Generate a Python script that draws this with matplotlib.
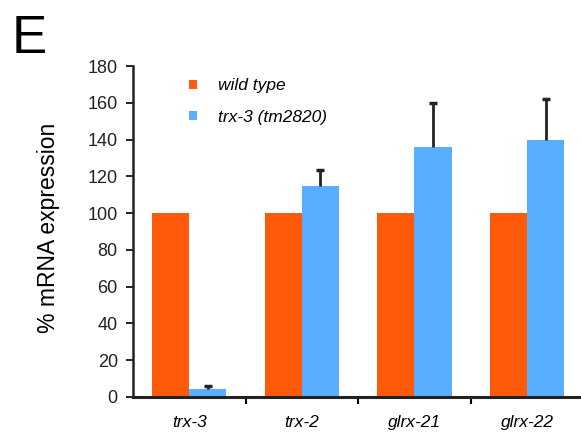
import matplotlib
matplotlib.use("Agg")
import matplotlib.pyplot as plt
import numpy as np

plt.rcParams['font.family'] = ['Liberation Sans', 'DejaVu Sans']

genes = ["trx-3", "trx-2", "glrx-21", "glrx-22"]
wild_type = [100, 100, 100, 100]
mutant = [4, 114.5, 136, 140]
mutant_err = [2, 9, 24, 22]

orange = "#ff5a0a"
blue = "#5aaeff"

fig = plt.figure(figsize=(5.81, 4.38), dpi=100)
ax = fig.add_axes([0.229, 0.094, 0.775, 0.755])

x = np.arange(len(genes))
w = 0.33
ax.bar(x - w / 2, wild_type, w, color=orange, label="wild type")
bars = ax.bar(x + w / 2, mutant, w, color=blue, label="trx-3 (tm2820)",
              yerr=[np.zeros(len(mutant)), mutant_err], capsize=3,
              error_kw=dict(ecolor="#222222", elinewidth=2, capthick=2.5))
# only the upper caps, like the original
bars.errorbar.lines[1][0].set_visible(False)

ax.set_xlim(-0.5, 3.5)
ax.set_ylim(0, 180)
ax.set_yticks(range(0, 181, 20))
ax.tick_params(axis="y", labelsize=13, length=5, width=1.2, direction="out",
               labelcolor="#222222", pad=6)

ax.set_xticks(x)
ax.set_xticklabels(genes, style="italic", fontsize=12.5)
ax.tick_params(axis="x", length=0, pad=13)
ax.set_xticks([0.5, 1.5, 2.5], minor=True)
ax.tick_params(axis="x", which="minor", length=5, width=1.5, direction="out")

for s in ["top", "right"]:
    ax.spines[s].set_visible(False)
ax.spines["left"].set_linewidth(1.8)
ax.spines["bottom"].set_linewidth(2.2)
ax.spines["left"].set_color("#222222")
ax.spines["bottom"].set_color("#222222")

ax.set_ylabel("% mRNA expression", fontsize=16.5)
ax.yaxis.set_label_coords(-0.162, 0.51)

ax.legend(loc="upper left", bbox_to_anchor=(0.09, 1.01), frameon=False,
          handlelength=0.45, handleheight=0.45, prop=dict(style="italic", size=12.5),
          labelspacing=0.95, handletextpad=1.2)

fig.text(0.02, 0.879, "E", fontsize=38)

fig.savefig("out.png", dpi=100)
